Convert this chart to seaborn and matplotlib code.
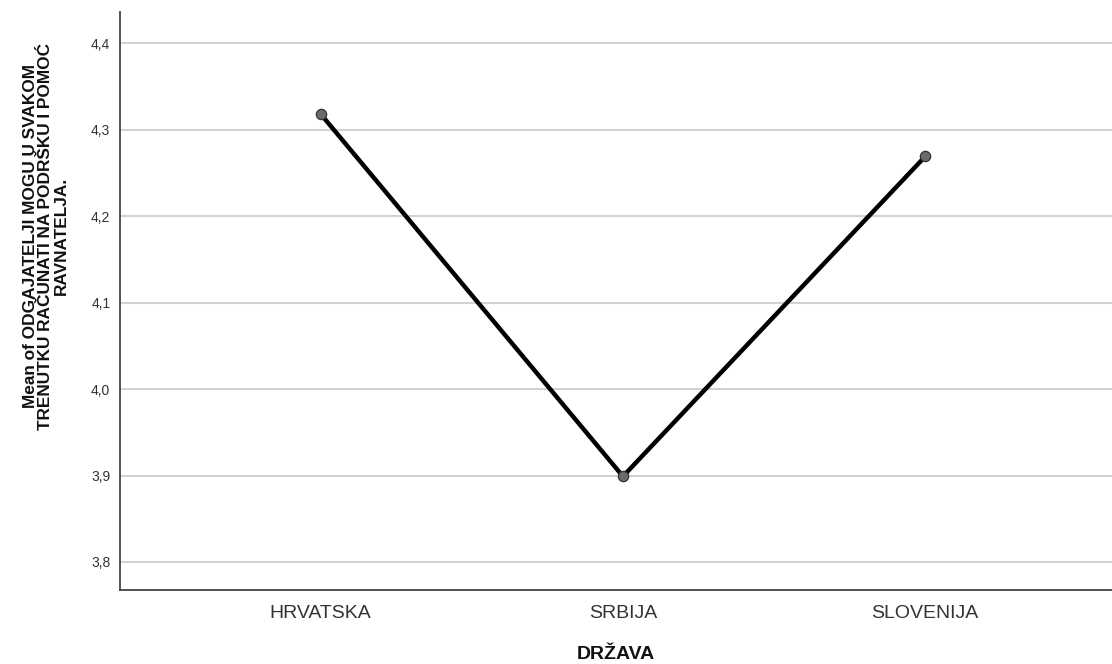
import matplotlib
matplotlib.use("Agg")
import matplotlib.pyplot as plt
import pandas as pd
import seaborn as sns

# data
countries = ["HRVATSKA", "SRBIJA", "SLOVENIJA"]
means = [4.318, 3.899, 4.269]
y_ticks = [3.8, 3.9, 4.0, 4.1, 4.2, 4.3, 4.4]
y_tick_labels = ["3,8", "3,9", "4,0", "4,1", "4,2", "4,3", "4,4"]

sns.set_theme(style="white")
plt.rcParams["font.family"] = ["Liberation Sans", "DejaVu Sans"]

df = pd.DataFrame({"drzava": countries, "mean": means})

fig = plt.figure(figsize=(11.12, 6.64), dpi=100)
ax = fig.add_axes([120 / 1112, 1 - 590 / 664, 1 - 120 / 1112, (590 - 12) / 664])

sns.lineplot(data=df, x="drzava", y="mean", color="black", linewidth=3.2,
             sort=False, ax=ax, zorder=3)
sns.scatterplot(data=df, x="drzava", y="mean", color="#6b6b6b", edgecolor="#333333",
                linewidth=0.9, s=55, ax=ax, zorder=4)

ax.set_xlim(-0.664, 2.618)
ax.set_ylim(3.7676, 4.436)
ax.set_yticks(y_ticks)
ax.set_yticklabels(y_tick_labels)
ax.yaxis.grid(True, color="#d2d2d2", linewidth=1.5)
ax.xaxis.grid(False)
ax.set_axisbelow(True)

for side in ["top", "right"]:
    ax.spines[side].set_visible(False)
for side in ["left", "bottom"]:
    ax.spines[side].set_color("#444444")
    ax.spines[side].set_linewidth(1.3)

ax.tick_params(axis="y", length=0, labelsize=10, labelcolor="#333333", pad=7)
ax.tick_params(axis="x", length=0, labelsize=14, labelcolor="#333333", pad=11)

ax.set_xlabel("DRŽAVA", fontsize=14, fontweight="bold", color="#111111", labelpad=17)
ax.set_ylabel("")
fig.text(46 / 1112, 1 - 236 / 664,
         "Mean of ODGAJATELJI MOGU U SVAKOM\nTRENUTKU RAČUNATI NA PODRŠKU I POMOĆ\nRAVNATELJA.",
         rotation=90, ha="center", va="center", multialignment="center",
         fontsize=12.4, fontweight="bold", color="#111111", linespacing=1.05)

fig.savefig("out.png", dpi=100)
